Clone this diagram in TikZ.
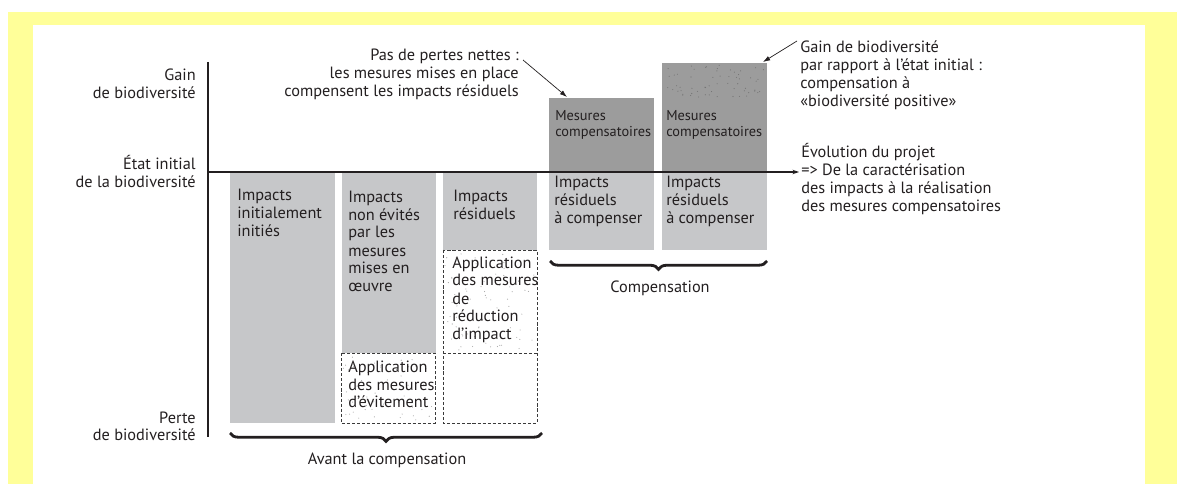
\documentclass[tikz,border=0pt]{standalone}
\usepackage{fontspec}
\setmainfont{PT Sans}
\usetikzlibrary{arrows.meta,decorations.pathreplacing}
\definecolor{jaune}{HTML}{FFFF99}
\definecolor{grisc}{HTML}{C6C7C9}
\definecolor{grisf}{HTML}{9C9C9C}
\definecolor{encre}{HTML}{231F20}
\definecolor{tiret}{HTML}{3A3A3A}
\newcommand{\grain}[6]{%
  \foreach \k in {1,...,#5}{%
    \pgfmathsetmacro{\gx}{#1+rnd*(#3-#1)}%
    \pgfmathsetmacro{\gy}{#2+rnd*(#4-#2)}%
    \fill[#6] (\gx,\gy) circle (0.4pt);}}
\tikzset{
  ax/.style={encre,line width=0.8pt},
  fleche/.style={-{Latex[length=1.8mm,width=1.2mm]},encre,line width=0.5pt},
  impact/.style={fill=grisc},
  mesure/.style={fill=grisf},
  appli/.style={draw=tiret,line width=0.7pt,dash pattern=on 2.2pt off 1.4pt},
  txt/.style={encre,font=\fontsize{11.6}{12.8}\selectfont,inner sep=0pt},
  lbl/.style={txt,anchor=base west,align=left},
  niveau/.style={txt,anchor=base east,align=right},
  petit/.style={lbl,font=\fontsize{10.2}{11.4}\selectfont},
  accolade/.style={decorate,decoration={brace,mirror,amplitude=6pt},encre,line width=2pt},
}

\begin{document}
\begin{tikzpicture}[x=0.025cm,y=-0.025cm]
  \useasboundingbox (0,0) rectangle (1177,484);
  \pgfmathsetseed{7}
  % fond
  \fill[white] (0,0) rectangle (1177,484);
  \fill[jaune] (8,12) rectangle (1177,484);
  \fill[white] (33,25) rectangle (1145,484);

  % colonnes avant compensation
  \fill[impact] (230,173) rectangle (335,423);
  \fill[impact] (342,173) rectangle (436,353);
  \grain{343}{356}{433}{420}{55}{black!35}
  \draw[appli] (341,353) rectangle (435,423);
  \fill[impact] (443,173) rectangle (537,250);
  \grain{445}{253}{535}{350}{75}{black!35}
  \draw[appli] (443,250) rectangle (537,423);
  \draw[appli] (443,353) -- (537,353);

  % colonnes compensation
  \fill[mesure] (549,98) rectangle (654,172);
  \fill[impact] (549,172) rectangle (654,250);
  \fill[mesure] (662,63) rectangle (767,172);
  \grain{663}{65}{766}{98}{60}{black!55}
  \fill[impact] (662,172) rectangle (767,250);

  % axes
  \coordinate (evolbout) at (799,172);
  \draw[ax] (208,62) -- (208,437);
  \draw[ax,-{Stealth[length=1.6mm,width=1.1mm]}] (208,172) -- (evolbout);

  % niveaux (ancre = ligne de base de la derniere ligne)
  \node[niveau] (gain) at (196,99) {Gain\\de biodiversité};
  \node[niveau] (etat) at (196,188) {État initial\\de la biodiversité};
  \node[niveau] (perte) at (196,441) {Perte\\de biodiversité};

  % textes des colonnes
  \node[lbl] (c1) at (237,237) {Impacts\\initialement\\initiés};
  \node[lbl] (c2) at (348,292) {Impacts\\non évités\\par les\\mesures\\mises en\\œuvre};
  \node[lbl] (c2b) at (348,408) {Application\\des mesures\\d’évitement};
  \node[lbl] (c3) at (453,220) {Impacts\\résiduels};
  \node[lbl] (c3b) at (452,340) {Application\\des mesures\\de\\réduction\\d’impact};
  \node[petit] (m4) at (555,137) {Mesures\\compensatoires};
  \node[lbl] (r4) at (554,224) {Impacts\\résiduels\\à compenser};
  \node[petit] (m5) at (666,137) {Mesures\\compensatoires};
  \node[lbl] (r5) at (666,224) {Impacts\\résiduels\\à compenser};

  % annotations
  \node[niveau] (pas) at (519,97)
    {Pas de pertes nettes :\\les mesures mises en place\\compensent les impacts résiduels};
  \node[lbl] (gainplus) at (800,107)
    {Gain de biodiversité\\par rapport à l’état initial :\\compensation à\\«biodiversité positive»};
  \node[lbl] (evol) at (801,212)
    {Évolution du projet\\=> De la caractérisation\\des impacts à la réalisation\\des mesures compensatoires};
  \coordinate (pasbout) at (523,60);
  \coordinate (m4haut) at (567,97);
  \coordinate (gainbout) at (797,41);
  \coordinate (m5haut) at (763,62);
  \draw[fleche] (pasbout) -- (m4haut);
  \draw[fleche] (gainbout) -- (m5haut);

  % accolades
  \draw[accolade] (230,433) -- (542,433);
  \node[txt] (avant) at (387,460) {Avant la compensation};
  \draw[accolade] (550,261) -- (767,261);
  \node[txt] (comp) at (660,288) {Compensation};
\end{tikzpicture}
\end{document}
